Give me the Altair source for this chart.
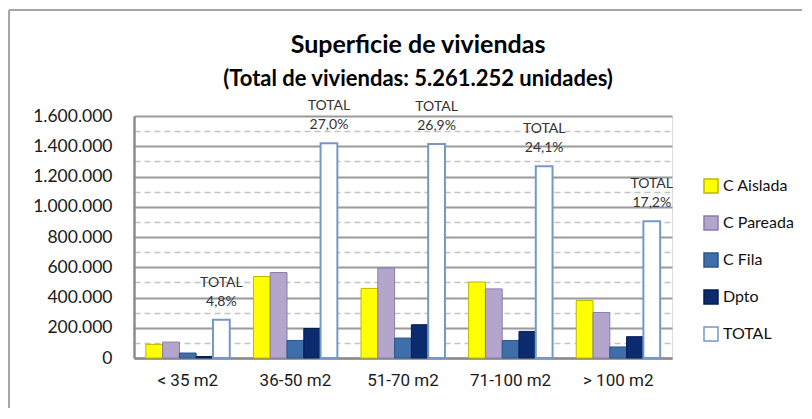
import altair as alt
import pandas as pd

categories = ["< 35 m2", "36-50 m2", "51-70 m2", "71-100 m2", "> 100 m2"]
series = ["C Aislada", "C Pareada", "C Fila", "Dpto", "TOTAL"]
c_aislada = [90000, 539000, 460000, 502000, 380000]
c_pareada = [105000, 565000, 594000, 457000, 301000]
c_fila = [33000, 116000, 132000, 116000, 73000]
dpto = [10000, 195000, 220000, 176000, 141000]
total = [252540, 1420538, 1415277, 1267962, 904935]
total_pct = ["4,8%", "27,0%", "26,9%", "24,1%", "17,2%"]
y_ticks = list(range(0, 1600001, 100000))
title_text = "Superficie de viviendas"
subtitle_text = "(Total de viviendas: 5.261.252 unidades)"

fills = ["#FFFF00", "#B3A5CC", "#3F6FAB", "#0C2B6E", "#FFFFFF"]
strokes = ["#BDB800", "#8C7DAA", "#2D5689", "#061C4E", "#7598CA"]

rows = []
for name, vals in zip(series, [c_aislada, c_pareada, c_fila, dpto, total]):
    for cat, v in zip(categories, vals):
        rows.append({"cat": cat, "serie": name, "valor": v})
df = pd.DataFrame(rows)
lab = pd.DataFrame({"cat": categories, "serie": ["TOTAL"] * 5, "valor": total,
                    "pct": total_pct, "tt": ["TOTAL"] * 5})

x_enc = alt.X("cat:N", sort=categories, title=None,
              scale=alt.Scale(paddingInner=0.22, paddingOuter=0.11),
              axis=alt.Axis(labelFont="Roboto", labelFontSize=17,
                            labelColor="#1a1a1a", labelPadding=14, ticks=False, tickSize=0,
                            domainColor="#8c8c8c", domainWidth=2.5, labelAngle=0, grid=False))
xo_enc = alt.XOffset("serie:N", sort=series,
                     scale=alt.Scale(domain=series, paddingInner=0, paddingOuter=0))
y_enc = alt.Y("valor:Q", title=None,
              scale=alt.Scale(domain=[0, 1600000], nice=False),
              axis=alt.Axis(values=y_ticks, labelOverlap=False,
                            labelExpr="datum.value % 200000 === 0 ? replace(format(datum.value, ','), regexp(',', 'g'), '.') : ''",
                            labelFont="Lato", labelFontSize=17.5, labelColor="#1a1a1a",
                            labelPadding=22, ticks=False, tickSize=0,
                            domainColor="#8c8c8c", domainWidth=2.5,
                            gridColor={"condition": {"test": "datum.value % 200000 === 0", "value": "#9a9a9a"}, "value": "#c4c4c4"},
                            gridWidth={"condition": {"test": "datum.value % 200000 === 0", "value": 2}, "value": 1.5},
                            gridDash={"condition": {"test": "datum.value % 200000 === 0", "value": [1, 0]}, "value": [6, 4]}))

legend = alt.Legend(title=None, orient="none", legendX=569, legendY=62,
                    symbolType="square", symbolSize=196, symbolStrokeWidth=1.5,
                    labelFont="Lato", labelFontSize=16, labelColor="#111111",
                    labelOffset=4, rowPadding=17, padding=0)

bars = alt.Chart(df).mark_bar().encode(
    x=x_enc, xOffset=xo_enc, y=y_enc,
    fill=alt.Fill("serie:N", sort=series, scale=alt.Scale(domain=series, range=fills), legend=legend),
    stroke=alt.Stroke("serie:N", sort=series, scale=alt.Scale(domain=series, range=strokes), legend=legend),
    strokeWidth=alt.condition(alt.datum.serie == "TOTAL", alt.value(2), alt.value(1)),
)

t1 = alt.Chart(lab).mark_text(font="Lato", fontSize=14, color="#333333", dy=-33,
                              baseline="alphabetic").encode(
    x=x_enc, xOffset=xo_enc, y=y_enc, text="tt:N")
t2 = alt.Chart(lab).mark_text(font="Lato", fontSize=14, color="#333333", dy=-14,
                              baseline="alphabetic").encode(
    x=x_enc, xOffset=xo_enc, y=y_enc, text="pct:N")

one = pd.DataFrame({"a": [0]})
border_left = alt.Chart(one).mark_rule(color="#a6a6a6", strokeWidth=2).encode(
    x=alt.value(-125), y=alt.value(-106), y2=alt.value(400))
border_top = alt.Chart(one).mark_rule(color="#a6a6a6", strokeWidth=2).encode(
    x=alt.value(-125), x2=alt.value(700), y=alt.value(-106))
title_mark = alt.Chart(one).mark_text(font="Lato", fontSize=25, fontWeight="bold",
                                      color="black", align="center", baseline="alphabetic").encode(
    x=alt.value(284), y=alt.value(-63), text=alt.value(title_text))
subtitle_mark = alt.Chart(one).mark_text(font="Lato", fontSize=22, fontWeight="bold",
                                         color="black", align="center", baseline="alphabetic").encode(
    x=alt.value(284), y=alt.value(-30), text=alt.value(subtitle_text))

chart = alt.layer(bars, t1, t2, border_left, border_top, title_mark, subtitle_mark).properties(
    width=538, height=242,
    padding={"left": 126, "top": 108, "right": 130, "bottom": 50},
    autosize="none",
).configure_view(stroke=None).configure(background="white")

chart.save("out.html", embed_options={"renderer": "svg", "actions": False})
